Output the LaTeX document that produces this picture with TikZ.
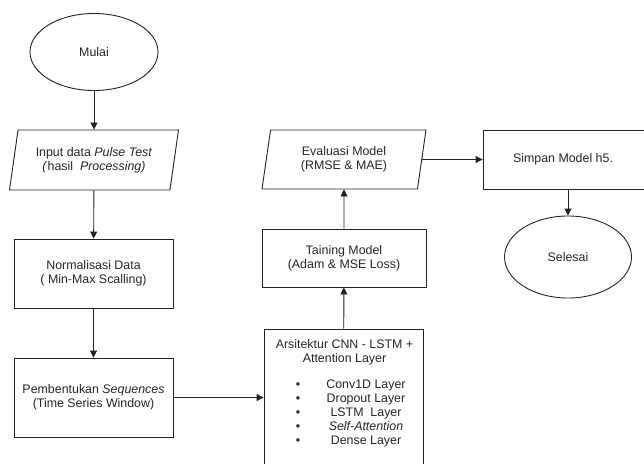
\documentclass[tikz,border=0pt]{standalone}
\usepackage{fontspec}
\setmainfont{Liberation Sans}
\usetikzlibrary{shapes.geometric,arrows.meta}
\definecolor{ln}{HTML}{222222}
\definecolor{tx}{HTML}{262626}
\begin{document}
\begin{tikzpicture}[x=1pt,y=-1pt,
  every node/.style={font=\fontsize{12.4}{14}\selectfont, text=tx, inner sep=0pt},
  shp/.style={draw=ln, line width=0.9pt, fill=white, align=center},
  boxs/.style={shp, rectangle},
  oval/.style={shp, ellipse},
  para/.style={shp, trapezium, trapezium left angle=71.5, trapezium right angle=108.5, trapezium stretches body=true},
  arr/.style={draw=ln, line width=0.9pt, -{Triangle[length=7pt,width=7pt]}}]
\useasboundingbox (0,0) rectangle (644,463);
\node[oval, minimum width=128pt, minimum height=77pt] (start) at (94,52) {Mulai};
\node[para, minimum width=169pt, minimum height=60pt] (inp) at (94,160) {Input data \textit{Pulse Test}\\\textit{(}hasil \ \textit{Processing)}};
\node[boxs, minimum width=159pt, minimum height=69pt] (norm) at (93.5,273.5) {Normalisasi Data\\( Min-Max Scalling)};
\node[boxs, minimum width=159pt, minimum height=79pt] (seq) at (93.5,397.5) {Pembentukan \textit{Sequences}\\(Time Series Window)};
\node[boxs, minimum width=159pt, minimum height=146pt] (arch) at (343.5,402) {};
\node[align=center] (archhead) at (344.5,352) {Arsitektur CNN - LSTM +\\Attention Layer};
\node[align=center] (archbul) at (298,413.5) {•\\•\\•\\•\\•};
\node[align=center] (archlist) at (366,413) {Conv1D Layer\\Dropout Layer\\LSTM \ Layer\\\textit{Self-Attention}\\Dense Layer};
\node[boxs, minimum width=164pt, minimum height=58pt] (train) at (344,258) {Taining Model\\(Adam \& MSE Loss)};
\node[para, minimum width=164pt, minimum height=59pt] (eval) at (344,159.5) {Evaluasi Model\\(RMSE \& MAE)};
\node[boxs, minimum width=170pt, minimum height=59pt] (save) at (568,159.5) {\hspace*{-10pt}Simpan Model h5.};
\node[oval, minimum width=127pt, minimum height=82pt] (end) at (568,257) {Selesai};
\draw[arr] (start) -- (inp);
\draw[arr] (inp) -- (norm);
\draw[arr] (norm) -- (seq);
\draw[arr] (seq.east) -- (seq.east -| arch.west);
\draw[arr] (arch) -- (train);
\draw[arr] (train) -- (eval);
\draw[arr] (eval.east) -- (eval.east -| save.west);
\draw[arr] (save.south -| end.north) -- (end.north);
\end{tikzpicture}
\end{document}
